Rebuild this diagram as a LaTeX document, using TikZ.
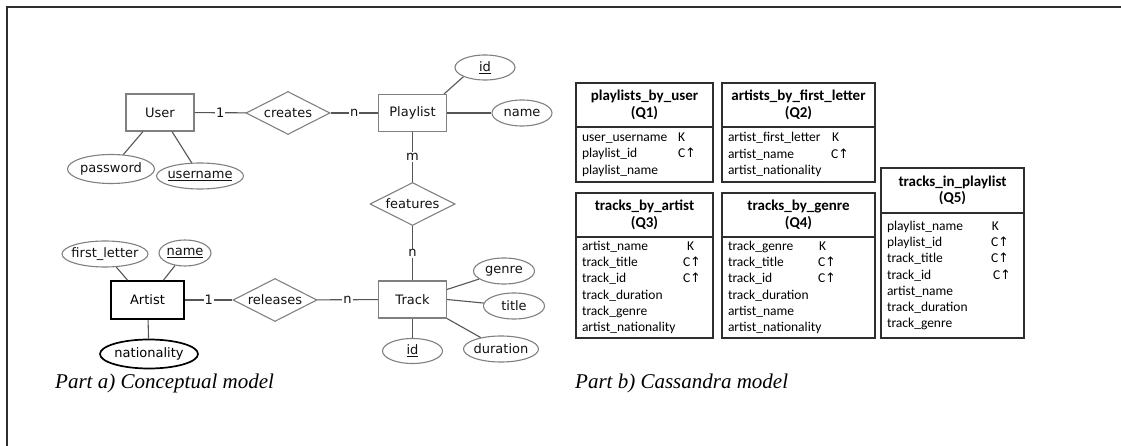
\documentclass[tikz,border=0pt]{standalone}
\usepackage{fontspec}
\setmainfont{Liberation Serif}
\newfontfamily\erfont{DejaVu Sans}
\newfontfamily\tabfont{Carlito}
\newfontfamily\arrfont{DejaVu Sans}
\usetikzlibrary{positioning,shapes.geometric}
\definecolor{ergray}{HTML}{808080}
\definecolor{linkgray}{HTML}{555555}
\definecolor{ertext}{HTML}{111111}
\definecolor{tabline}{HTML}{2E2E2E}
\newcommand{\pk}[1]{\underline{#1}}
\newcommand{\ctr}[1]{\makebox[0pt]{#1}}
\newcommand{\asc}{C{\arrfont\fontsize{13}{13}\selectfont ↑}}
\newcommand{\col}[2]{\makebox[#1][l]{#2}}
\tikzset{
  entity/.style={rectangle, draw=ergray, line width=1.1pt, minimum width=68pt, minimum height=37pt, inner sep=0pt, text=ertext, font=\erfont\fontsize{13}{15}\selectfont},
  strongent/.style={entity, draw=black, line width=1.8pt, text=black, minimum width=73pt, minimum height=38pt},
  rel/.style={diamond, aspect=2, draw=ergray, line width=1.1pt, minimum width=84pt, minimum height=43pt, inner sep=0pt, text=ertext, font=\erfont\fontsize{13}{15}\selectfont},
  attr/.style={ellipse, draw=ergray, line width=1.1pt, minimum height=26pt, inner sep=0pt, text=ertext, font=\erfont\fontsize{13}{15}\selectfont},
  strongattr/.style={attr, draw=black, line width=1.7pt, text=black},
  link/.style={draw=linkgray, line width=1.1pt},
  card/.style={fill=white, inner sep=1pt, text=ertext, font=\erfont\fontsize{13}{15}\selectfont},
  qhead/.style={rectangle, draw=tabline, line width=1.5pt, align=center, inner sep=0pt, outer sep=0pt, minimum height=44pt, font=\tabfont\bfseries\fontsize{15}{16.5}\selectfont},
  qbody/.style={rectangle, draw=tabline, line width=1.5pt, align=left, inner xsep=6pt, inner ysep=0pt, outer sep=0pt, font=\tabfont\fontsize{13.5}{16.3}\selectfont},
  caption/.style={anchor=base west, inner sep=0pt, font=\itshape\fontsize{21}{24}\selectfont}
}
\begin{document}
\begin{tikzpicture}[x=1pt, y=-1pt]
  \useasboundingbox (0,0) rectangle (1121,446);
  \draw[draw=tabline, line width=1.8pt] (7,446) -- (7,7) -- (1121,7);

  % Part a)
  \node[entity] (user) at (160,112.5) {User};
  \node[rel] (creates) at (288,113) {creates};
  \node[entity] (playlist) at (412.5,113) {Playlist};
  \node[attr, minimum width=60pt, minimum height=25pt] (pid) at (485,67.5) {\ctr{\pk{id}}};
  \node[attr, minimum width=60pt] (pname) at (522,113) {\ctr{name}};
  \node[attr, minimum width=87pt, minimum height=29pt] (password) at (111,169) {\ctr{password}};
  \node[attr, minimum width=87pt] (username) at (200,176) {\ctr{\pk{username}}};
  \node[rel, minimum width=85pt] (features) at (412.5,204) {features};
  \node[entity] (track) at (412.5,299.5) {Track};
  \node[attr, minimum width=61pt] (genre) at (504,271) {\ctr{genre}};
  \node[attr, minimum width=61pt] (title) at (514,306) {\ctr{title}};
  \node[attr, minimum width=75pt] (duration) at (501,349) {\ctr{duration}};
  \node[attr, minimum width=60pt, minimum height=25pt] (tid) at (412.5,351) {\ctr{\pk{id}}};
  \node[rel] (releases) at (275,300) {releases};
  \node[strongent] (artist) at (147.5,300) {Artist};
  \node[attr, minimum width=86pt] (fletter) at (105,254) {\ctr{first\_letter}};
  \node[attr, minimum width=52pt] (aname) at (185,253) {\ctr{\pk{name}}};
  \node[strongattr, minimum width=98pt, minimum height=29pt] (nation) at (149,354) {\ctr{nationality}};

  \draw[link] (user) -- node[card] {1} (creates);
  \draw[link] (creates) -- node[card] {n} (playlist);
  \draw[link] (playlist) -- node[card] {m} (features);
  \draw[link] (features) -- node[card] {n} (track);
  \draw[link] (artist) -- node[card] {1} (releases);
  \draw[link] (releases) -- node[card] {n} (track);
  \draw[link] ([xshift=-3pt]playlist.north east) -- (pid.south west);
  \draw[link] (playlist) -- (pname);
  \draw[link] ([xshift=-17pt]user.south) -- (password);
  \draw[link] ([xshift=12pt]user.south) -- (username);
  \draw[link] ([yshift=-9pt]track.north east) -- (genre);
  \draw[link] (track.east) -- (title);
  \draw[link] (track.south east) -- (duration);
  \draw[link] (track) -- (tid);
  \draw[link] ([xshift=-20pt]artist.north) -- (fletter);
  \draw[link] ([xshift=16pt]artist.north) -- (aname);
  \draw[link] (artist) -- (nation);

  \node[caption] (capa) at (55,388) {Part a) Conceptual model};

  % Part b)
  \node[qhead, minimum width=137pt] (q1h) at (644.5,105) {playlists\_by\_user\\(Q1)};
  \node[qbody, text width=125pt, minimum height=55pt, below=0pt of q1h] (q1b)
    {\col{96pt}{user\_username}K\\\col{96pt}{playlist\_id}\asc\\playlist\_name};
  \node[qhead, minimum width=153pt] (q2h) at (798.5,105) {artists\_by\_first\_letter\\(Q2)};
  \node[qbody, text width=141pt, minimum height=55pt, below=0pt of q2h] (q2b)
    {\col{104pt}{artist\_first\_letter}K\\\col{103pt}{artist\_name}\asc\\artist\_nationality};
  \node[qhead, minimum width=137pt] (q3h) at (644.5,215) {tracks\_by\_artist\\(Q3)};
  \node[qbody, text width=125pt, minimum height=101pt, below=0pt of q3h] (q3b)
    {\col{105pt}{artist\_name}K\\\col{101pt}{track\_title}\asc\\\col{101pt}{track\_id}\asc\\track\_duration\\track\_genre\\artist\_nationality};
  \node[qhead, minimum width=153pt] (q4h) at (798.5,215) {tracks\_by\_genre\\(Q4)};
  \node[qbody, text width=141pt, minimum height=101pt, below=0pt of q4h] (q4b)
    {\col{91pt}{track\_genre}K\\\col{90pt}{track\_title}\asc\\\col{90pt}{track\_id}\asc\\track\_duration\\artist\_name\\artist\_nationality};
  \node[qhead, minimum width=143pt, minimum height=45pt] (q5h) at (952.5,190.5) {tracks\_in\_playlist\\(Q5)};
  \node[qbody, text width=131pt, minimum height=125pt, below=0pt of q5h] (q5b)
    {\col{105pt}{playlist\_name}K\\\col{104pt}{playlist\_id}\asc\\\col{104pt}{track\_title}\asc\\\col{106pt}{track\_id}\asc\\artist\_name\\track\_duration\\track\_genre};

  \node[caption] (capb) at (575,388) {Part b) Cassandra model};
\end{tikzpicture}
\end{document}
